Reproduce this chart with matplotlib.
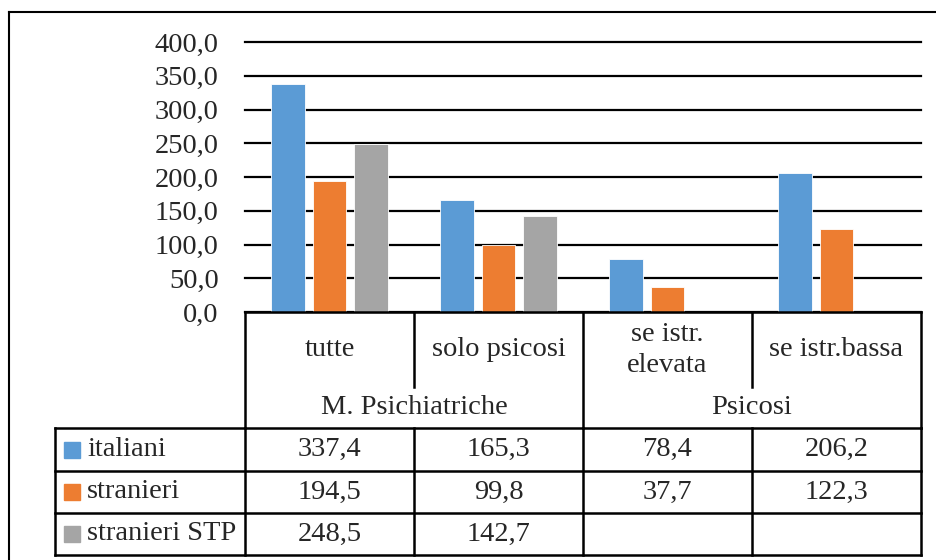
import matplotlib
matplotlib.use("Agg")
import matplotlib.pyplot as plt
import numpy as np

# data
categories = ["tutte", "solo psicosi", "se istr.\nelevata", "se istr.bassa"]
groups = ["M. Psichiatriche", "Psicosi"]
series = ["italiani", "stranieri", "stranieri STP"]
italiani = [337.4, 165.3, 78.4, 206.2]
stranieri = [194.5, 99.8, 37.7, 122.3]
stranieri_stp = [248.5, 142.7, None, None]
yticks = [0, 50, 100, 150, 200, 250, 300, 350, 400]

colors = ["#5B9BD5", "#ED7D31", "#A5A5A5"]
txt = "#262626"
plt.rcParams["font.family"] = ["Liberation Serif", "DejaVu Serif"]
fs = 20.5

W, H = 937, 560
fig = plt.figure(figsize=(W / 100, H / 100), dpi=100)

# pixel layout
x0, x1 = 245, 921
y_top, y_base = 42, 312
ax = fig.add_axes([x0 / W, 1 - y_base / H, (x1 - x0) / W, (y_base - y_top) / H])

values = [italiani, stranieri, stranieri_stp]
n = len(categories)
idx = np.arange(n)
width = 0.201
step = 0.243
for k, (vals, c) in enumerate(zip(values, colors)):
    v = [np.nan if a is None else a for a in vals]
    ax.bar(idx + (k - 1) * step, v, width, color=c, edgecolor="white",
           linewidth=0.6, zorder=3)

ax.set_xlim(-0.5, n - 0.5)
ax.set_ylim(0, 400)
ax.set_yticks(yticks)
ax.set_yticklabels([f"{t:.1f}".replace(".", ",") for t in yticks],
                   fontsize=fs, color=txt)
ax.tick_params(axis="y", length=0, pad=19)
ax.set_xticks([])
ax.grid(axis="y", color="black", linewidth=1.6, zorder=0)
for gl in ax.get_ygridlines():
    gl.set_clip_on(False)
for s in ax.spines.values():
    s.set_visible(False)

# overlay in pixel coordinates for frame and data table
ov = fig.add_axes([0, 0, 1, 1], zorder=5)
ov.set_xlim(0, W)
ov.set_ylim(H, 0)
ov.axis("off")
ov.patch.set_alpha(0)

lw = 1.8
def line(xs, ys, w=lw):
    ov.plot(xs, ys, color="black", linewidth=w, solid_capstyle="projecting")

# outer frame
line([9.5, 9.5], [11.5, H + 5], 1.5)
line([9.5, W + 5], [11.5, 11.5], 1.5)

cols = [245, 414, 583, 752, 921]
row_lines = [428, 471, 513, 555]
tab_left = 55

# category header
line([cols[0], cols[-1]], [y_base, y_base])
for i, cx in enumerate(cols):
    if i in (1, 3):
        line([cx, cx], [y_base, 387])
    else:
        line([cx, cx], [y_base, row_lines[0]])
for i, cat in enumerate(categories):
    ov.text((cols[i] + cols[i + 1]) / 2, 350, cat, ha="center", va="center",
            fontsize=fs, color=txt, linespacing=1.3)
for g, gname in enumerate(groups):
    ov.text(cols[2 * g + 1], 408, gname, ha="center", va="center",
            fontsize=fs, color=txt)

# data rows
for ry in row_lines:
    line([tab_left, cols[-1]], [ry, ry])
for cx in [tab_left] + cols:
    line([cx, cx], [row_lines[0], row_lines[-1]])

for r, (name, vals, c) in enumerate(zip(series, values, colors)):
    yc = (row_lines[r] + row_lines[r + 1]) / 2
    ov.add_patch(plt.Rectangle((64, yc - 8), 16, 16, color=c))
    ov.text(87, yc, name, ha="left", va="center", fontsize=fs, color=txt)
    for i, v in enumerate(vals):
        if v is None:
            continue
        ov.text((cols[i] + cols[i + 1]) / 2, yc, f"{v:.1f}".replace(".", ","),
                ha="center", va="center", fontsize=fs, color=txt)

fig.savefig("out.png", dpi=100)
